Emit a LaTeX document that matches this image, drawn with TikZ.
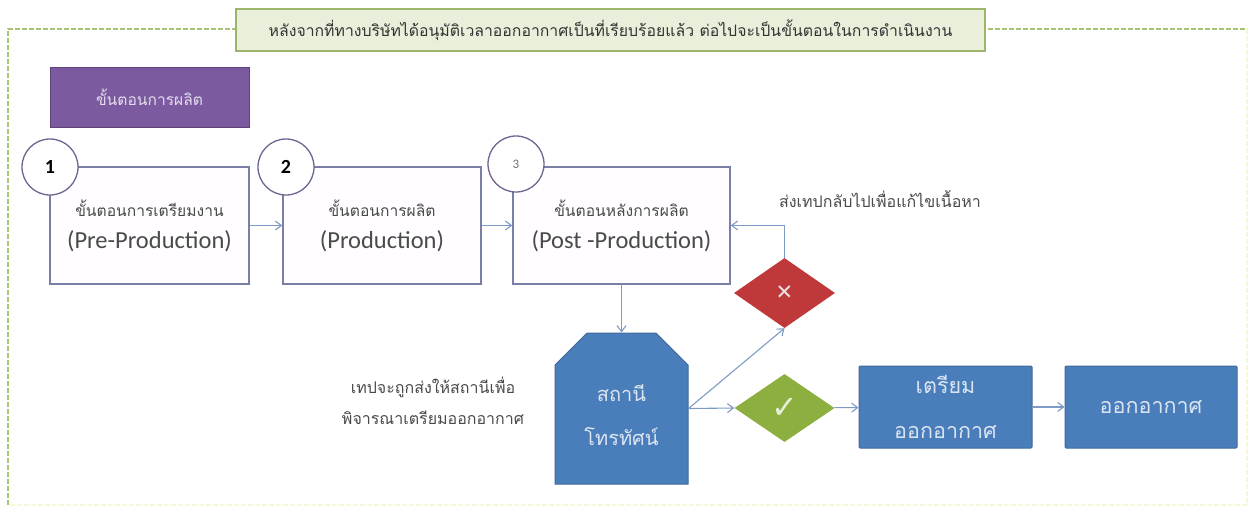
\documentclass[tikz,border=0pt]{standalone}
\usepackage{fontspec}
\usetikzlibrary{shapes.geometric,shapes.misc,arrows.meta,shadows}
\newfontfamily\thaifont[Script=Thai]{Loma}
\newfontfamily\latinfont{Carlito}
\newfontfamily\symfont{DejaVu Sans}
\definecolor{framegreen}{HTML}{A6C672}
\definecolor{palegreen}{HTML}{F4FAD8}
\definecolor{bannerfill}{HTML}{E9EFDA}
\definecolor{bannerline}{HTML}{9DB56A}
\definecolor{boxline}{HTML}{7A7FA6}
\definecolor{boxfill}{HTML}{FFFDFF}
\definecolor{circline}{HTML}{6F6592}
\definecolor{purplefill}{HTML}{7B5AA0}
\definecolor{bluefill}{HTML}{4A7EBB}
\definecolor{blueline}{HTML}{41689A}
\definecolor{redfill}{HTML}{C0393A}
\definecolor{greenfill}{HTML}{8DAF3F}
\definecolor{arrowc}{HTML}{7E9BC6}
\definecolor{textgray}{HTML}{4A4A4A}
\tikzset{
  stepbox/.style={draw=boxline,line width=1.5pt,fill=boxfill,inner sep=0pt,align=center,text=textgray,font=\thaifont\fontsize{15.6}{24}\selectfont},
  numcirc/.style={circle,draw=circline,line width=1.3pt,fill=white,minimum size=56pt,inner sep=0pt,text=black},
  bluebox/.style={draw=blueline,line width=1pt,fill=bluefill,rounded corners=1pt,inner sep=0pt,align=center,text=white!80!bluefill,font=\thaifont\fontsize{21.5}{45}\selectfont},
  decide/.style={diamond,aspect=1.47,inner sep=0pt,text=white!90!black},
  conn/.style={draw=arrowc,line width=1.1pt,-{Straight Barb[length=6pt,width=9pt]}},
  plaintext/.style={align=center,text=textgray,font=\thaifont\fontsize{16}{31}\selectfont,inner sep=0pt},
}
\newcommand{\engl}[1]{{\latinfont\fontsize{24.5}{28}\selectfont #1}}
\begin{document}
\begin{tikzpicture}[x=1pt,y=-1pt]
\useasboundingbox (0,0) rectangle (1249,509);
% frame
\coordinate (fbl) at (8,505);
\coordinate (ftl) at (8,29);
\coordinate (ftr) at (1247,29);
\coordinate (fbr) at (1247,505);
\draw[palegreen,line width=1.2pt,dash pattern=on 5pt off 2pt] (ftr) -- (fbr) -- (fbl);
\draw[framegreen,line width=1.2pt,dash pattern=on 5pt off 2pt] (fbl) -- (ftl) -- (ftr);
% banner
\node[draw=bannerline,line width=1.3pt,fill=bannerfill,minimum width=749pt,minimum height=42pt,inner sep=0pt,text=black!80,font=\thaifont\fontsize{15.8}{18}\selectfont] (banner) at (610.5,30) {หลังจากที่ทางบริษัทได้อนุมัติเวลาออกอากาศเป็นที่เรียบร้อยแล้ว ต่อไปจะเป็นขั้นตอนในการดำเนินงาน};
% purple
\node[draw=purplefill!75!black,line width=.8pt,fill=purplefill,minimum width=199pt,minimum height=60pt,inner sep=0pt,text=white!80!purplefill,font=\thaifont\fontsize{15.6}{18}\selectfont] (title) at (149.5,97) {ขั้นตอนการผลิต};
% step boxes
\node[stepbox,minimum width=199pt,minimum height=117pt] (b1) at (149.5,225.5) {ขั้นตอนการเตรียมงาน\\[8pt]\engl{(Pre-Production)}};
\node[stepbox,minimum width=198pt,minimum height=117pt] (b2) at (382,225.5) {ขั้นตอนการผลิต\\[8pt]\engl{(Production)}};
\node[stepbox,minimum width=217pt,minimum height=117pt] (b3) at (621.5,225.5) {ขั้นตอนหลังการผลิต\\[8pt]\engl{(Post -Production)}};
% number circles
\node[numcirc,font=\latinfont\bfseries\fontsize{20}{24}\selectfont] (c1) at (50,167) {1};
\node[numcirc,font=\latinfont\bfseries\fontsize{20}{24}\selectfont] (c2) at (286,167) {2};
\node[numcirc,text=black!55,font=\latinfont\fontsize{13}{15}\selectfont] (c3) at (516,164) {3};
% station
\node[chamfered rectangle,chamfered rectangle corners={north west,north east},chamfered rectangle angle=45,chamfered rectangle sep=16pt,draw=blueline,line width=1pt,fill=bluefill,minimum width=133pt,minimum height=151pt,inner sep=0pt,align=center,text=white!80!bluefill,font=\thaifont\fontsize{20}{44}\selectfont] (st) at (621.5,408.5) {\rule{0pt}{30pt}สถานี\\โทรทัศน์};
% decisions
\node[decide,fill=redfill,minimum width=101pt,minimum height=70pt] (no) at (784.5,293) {\symfont\bfseries\fontsize{21}{23}\selectfont ✕};
\node[decide,fill=greenfill,minimum width=100pt,minimum height=68pt] (yes) at (784.5,408) {\symfont\fontsize{32}{34}\selectfont\color{white!80!greenfill}✓};
% blue boxes
\node[bluebox,minimum width=173pt,minimum height=82pt] (prep) at (945.5,407) {เตรียม\\ออกอากาศ};
\node[bluebox,minimum width=172pt,minimum height=82pt] (air) at (1151,407) {ออกอากาศ};
% labels
\node[plaintext] (retlab) at (880,199) {ส่งเทปกลับไปเพื่อแก้ไขเนื้อหา};
\node[plaintext] (stlab) at (433,401) {เทปจะถูกส่งให้สถานีเพื่อ\\พิจารณาเตรียมออกอากาศ};
% connectors
\draw[conn] (b1) -- (b2);
\draw[conn] (b2) -- (b3);
\draw[conn] (b3) -- (st);
\draw[conn] (no.north) |- (b3.east);
\draw[conn] (st.east) -- (no.south);
\draw[conn] (st.east) -- (yes.west);
\draw[conn] (yes) -- (prep);
\draw[conn] (prep) -- (air);
\end{tikzpicture}
\end{document}
